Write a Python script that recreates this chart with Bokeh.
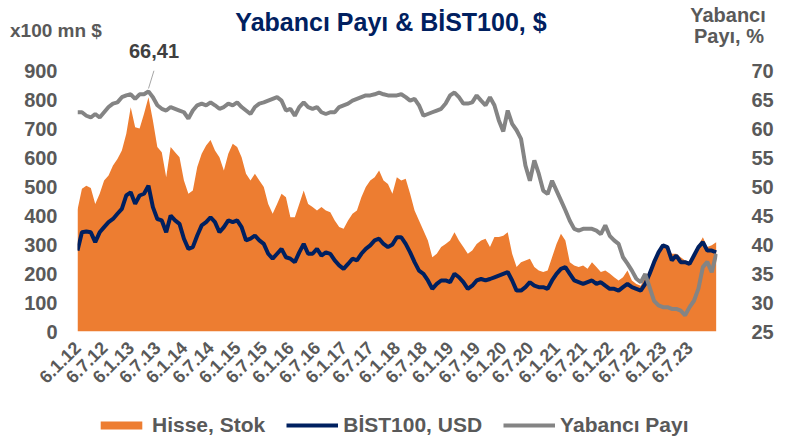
import math
from bokeh.plotting import figure
from bokeh.layouts import column
from bokeh.models import (Range1d, LinearAxis, Legend, LegendItem,
                          FixedTicker, Arrow, Div)
from bokeh.embed import file_html
from bokeh.resources import INLINE

# ---------------- data (monthly readings, Jan 2012 .. Jan 2024) ----------------
stock = [420, 492, 503, 495, 440, 475, 521, 538, 572, 595, 624, 682,
         773, 704, 700, 751, 808, 728, 636, 618, 532, 636, 618, 601,
         521, 475, 486, 567, 613, 641, 660, 624, 601, 555, 613, 647,
         636, 601, 544, 521, 544, 521, 498, 440, 406, 440, 475, 463,
         394, 394, 440, 486, 440, 429, 417, 429, 417, 411, 383, 360,
         354, 383, 406, 417, 463, 498, 521, 532, 555, 521, 509, 475,
         532, 521, 527, 475, 417, 383, 348, 314, 256, 268, 291, 302,
         314, 342, 314, 291, 268, 279, 302, 314, 320, 291, 326, 326,
         330, 342, 268, 222, 239, 245, 251, 222, 210, 205, 210, 256,
         302, 337, 314, 239, 228, 222, 228, 216, 239, 222, 205, 210,
         200, 187, 176, 187, 210, 176, 164, 158, 187, 210, 239, 279,
         297, 291, 268, 268, 256, 245, 239, 268, 297, 325, 291, 297,
         308]

bist_usd = [279, 342, 345, 342, 308, 342, 360, 377, 388, 406, 423, 469,
            480, 440, 469, 475, 503, 429, 388, 383, 342, 400, 383, 371,
            320, 285, 291, 331, 366, 377, 394, 377, 342, 360, 383, 377,
            383, 360, 314, 320, 331, 314, 302, 268, 251, 268, 285, 256,
            251, 239, 273, 302, 268, 268, 285, 262, 273, 268, 245, 228,
            216, 233, 251, 245, 268, 285, 297, 314, 320, 302, 291, 300,
            325, 325, 302, 273, 239, 210, 199, 176, 147, 164, 176, 176,
            170, 199, 187, 170, 147, 158, 176, 181, 176, 181, 187, 193,
            199, 205, 176, 141, 141, 153, 170, 158, 153, 153, 147, 176,
            199, 216, 222, 199, 176, 170, 164, 170, 176, 164, 170, 158,
            147, 147, 141, 153, 164, 153, 147, 141, 164, 199, 239, 273,
            297, 291, 245, 262, 239, 239, 233, 262, 291, 308, 279, 279,
            273]

foreign_share = [62.8, 62.8, 62.2, 61.9, 62.5, 61.9, 62.8, 63.7, 64.3, 64.5, 65.4, 65.7,
                 65.9, 65.1, 65.9, 65.9, 66.4, 65.4, 64.0, 63.4, 63.1, 63.7, 63.4, 63.1,
                 62.8, 61.7, 63.1, 64.0, 64.3, 64.0, 64.5, 64.0, 63.4, 63.7, 64.3, 64.0,
                 64.5, 63.7, 63.1, 62.5, 63.7, 64.3, 64.5, 64.8, 65.1, 65.4, 64.8, 63.1,
                 63.4, 62.2, 63.7, 64.5, 63.7, 63.4, 63.7, 62.8, 62.5, 62.8, 62.8, 63.7,
                 64.0, 64.3, 64.8, 65.1, 65.4, 65.7, 65.7, 65.9, 66.2, 65.9, 65.7, 65.7,
                 65.7, 65.9, 65.4, 64.8, 65.1, 64.0, 62.2, 62.5, 62.8, 63.1, 63.4, 64.3,
                 65.7, 66.2, 65.4, 64.3, 64.3, 64.5, 65.7, 64.8, 64.0, 65.4, 64.0, 61.4,
                 59.5, 63.1, 60.8, 59.7, 58.2, 53.6, 51.0, 54.5, 52.2, 49.3, 48.7, 51.0,
                 49.3, 47.6, 45.9, 44.1, 42.7, 42.4, 42.7, 42.7, 42.7, 42.4, 41.8, 43.3,
                 41.5, 40.7, 40.1, 37.8, 36.7, 35.5, 34.1, 33.5, 34.9, 32.6, 30.3, 29.5,
                 29.2, 29.2, 28.9, 28.9, 28.6, 27.8, 29.2, 30.3, 32.4, 36.1, 37.0, 35.2,
                 38.4]

months = list(range(len(stock)))

tick_labels = ["6.1.12", "6.7.12", "6.1.13", "6.7.13", "6.1.14", "6.7.14",
               "6.1.15", "6.7.15", "6.1.16", "6.7.16", "6.1.17", "6.7.17",
               "6.1.18", "6.7.18", "6.1.19", "6.7.19", "6.1.20", "6.7.20",
               "6.1.21", "6.7.21", "6.1.22", "6.7.22", "6.1.23", "6.7.23"]
tick_pos = [6 * i for i in range(len(tick_labels))]

left_ticks = list(range(0, 1000, 100))
right_ticks = list(range(25, 75, 5))

peak_label = "66,41"

# ---------------- styling ----------------
FONT = "Liberation Sans"
GREY_TXT = "#595959"
ORANGE = "#ED7D31"
NAVY = "#002060"
GREY = "#848484"

W = 784
TOP_H = 60                 # header strip (title and axis captions)
MAIN_H = 346               # chart itself
LEG_H = 38                 # legend strip
FL, FR = 77, 717           # frame left/right (page px)
FT, FB = 10, 271           # frame top/bottom inside the main figure
X0, X1 = 0, 144.3
Y0, Y1 = 0, 900

# ---------------- header (HTML text) ----------------


def span(txt, x, y, size, color, anchor="center"):
    tx = "-50%" if anchor == "center" else "0"
    return (f'<span style="position:absolute;left:{x}px;top:{y}px;'
            f'transform:translate({tx},-50%);font-size:{size}px;color:{color};'
            f'white-space:nowrap;line-height:1">{txt}</span>')


header_html = (
    f'<div style="position:relative;width:{W}px;height:{TOP_H}px;'
    f'font-family:\'{FONT}\';font-weight:bold;">'
    + span("Yabancı Payı &amp; BİST100, $", 391, 22, 25, NAVY)
    + span("x100 mn $", 10, 30, 19, GREY_TXT, anchor="left")
    + span(peak_label, 154, 51, 20, "#404040")
    + span("Yabancı", 728, 15, 20, GREY_TXT)
    + span("Payı, %", 729, 36, 20, GREY_TXT)
    + '</div>'
)
header = Div(text=header_html, width=W, height=TOP_H, margin=0)

# ---------------- main chart ----------------
p = figure(width=W, height=MAIN_H, output_backend="svg", toolbar_location=None,
           x_range=Range1d(X0, X1), y_range=Range1d(Y0, Y1),
           min_border_left=FL, min_border_right=W - FR,
           min_border_top=FT, min_border_bottom=MAIN_H - FB, margin=0)
p.extra_y_ranges = {"pct": Range1d(25, 70)}
p.xgrid.visible = False
p.ygrid.visible = False
p.outline_line_color = None
p.background_fill_color = "white"
p.border_fill_color = "white"

p.varea(x=months, y1=0, y2=stock, fill_color=ORANGE)
p.line(months, bist_usd, line_color=NAVY, line_width=4)
p.line(months, foreign_share, line_color=GREY, line_width=4, y_range_name="pct")

right_axis = LinearAxis(y_range_name="pct", ticker=FixedTicker(ticks=right_ticks))
p.add_layout(right_axis, "right")

p.yaxis[0].ticker = FixedTicker(ticks=left_ticks)
p.xaxis.ticker = FixedTicker(ticks=tick_pos)
p.xaxis.major_label_overrides = {pos: lab for pos, lab in zip(tick_pos, tick_labels)}
p.xaxis.major_label_orientation = math.pi / 4

for ax in p.axis:
    ax.axis_line_color = None
    ax.major_tick_line_color = None
    ax.minor_tick_line_color = None
    ax.major_tick_in = 0
    ax.major_tick_out = 0
    ax.major_label_text_font = FONT
    ax.major_label_text_font_style = "bold"
    ax.major_label_text_color = GREY_TXT
    ax.major_label_text_font_size = "20px"
    ax.major_label_standoff = 20
right_axis.major_label_standoff = 34
p.xaxis.major_label_text_font_size = "18px"
p.xaxis.major_label_standoff = 13


def dx(x):
    return X0 + (x - FL) / (FR - FL) * (X1 - X0)


def dy(y):
    return Y0 + (FB - y) / (FB - FT) * (Y1 - Y0)


# leader line from the peak label down to the peak of the foreign-share line
p.add_layout(Arrow(end=None, x_start=dx(153.5), y_start=dy(FT), x_end=dx(148), y_end=dy(FT + 18),
                   line_color="#A6A6A6", line_width=1))

# ---------------- legend strip ----------------
# proxies share the series data; the strip's y-range lies below all values,
# so only the legend itself is visible here.
leg = figure(width=W, height=LEG_H, output_backend="svg", toolbar_location=None,
             x_axis_type=None, y_axis_type=None,
             x_range=Range1d(X0, X1), y_range=Range1d(-2000, -1000),
             min_border_left=FL, min_border_right=W - FR,
             min_border_top=0, min_border_bottom=0, margin=0)
leg.grid.visible = False
leg.outline_line_color = None
leg.background_fill_color = "white"
leg.border_fill_color = "white"
r_area = leg.varea(x=months, y1=0, y2=stock, fill_color=ORANGE)
r_bist = leg.line(months, bist_usd, line_color=NAVY, line_width=4)
r_fs = leg.line(months, foreign_share, line_color=GREY, line_width=4)
legend = Legend(items=[LegendItem(label="Hisse, Stok", renderers=[r_area]),
                       LegendItem(label="BİST100, USD", renderers=[r_bist]),
                       LegendItem(label="Yabancı Payı", renderers=[r_fs])],
                orientation="horizontal", location=(95 - FL, 7),
                label_text_font=FONT, label_text_font_style="bold",
                label_text_color=GREY_TXT, label_text_font_size="21px",
                glyph_width=52, glyph_height=10, label_standoff=5, spacing=21,
                border_line_color=None, background_fill_alpha=0,
                padding=0, margin=0)
leg.add_layout(legend)

layout = column(header, p, leg, spacing=0)
open("out.html", "w").write(file_html(layout, INLINE))
